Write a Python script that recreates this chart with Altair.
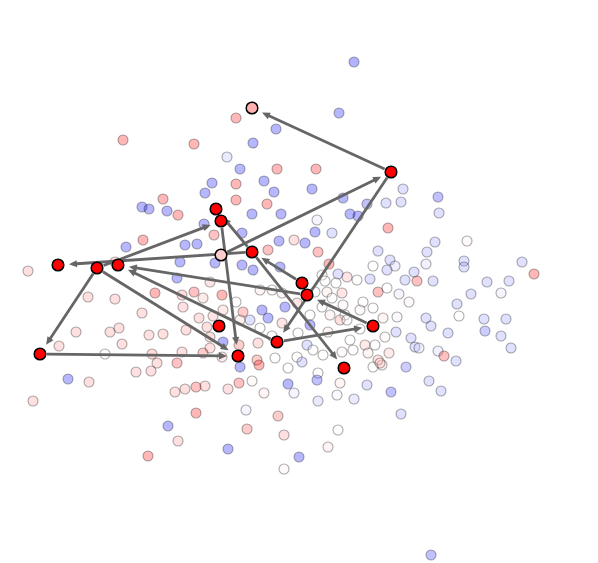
import math
import altair as alt
import pandas as pd

# ---------------- background points (embedding coords) -------------
bg_x = [354, 339, 236, 276, 123, 194, 253, 227, 240, 277, 316, 212, 236, 264, 205, 274, 312, 236, 267, 343,
        367, 386, 403, 401, 438, 439, 252, 281, 350, 358, 317, 142, 149, 163, 167, 178, 204, 143, 126, 185,
        197, 214, 242, 315, 332, 388, 279, 294, 305, 318, 329, 268, 180, 215, 242, 253, 280, 115, 28, 177,
        435, 467, 427, 378, 390, 395, 426, 464, 464, 522, 534, 414, 405, 417, 433, 387, 378, 399, 409, 487,
        509, 471, 501, 457, 459, 484, 506, 485, 501, 511, 383, 397, 426, 431, 448, 396, 411, 415, 419, 438,
        444, 456, 389, 382, 406, 429, 441, 391, 401, 431,
        338, 347, 357, 370, 373, 387, 322, 325, 336, 327, 342, 332, 315, 363, 260, 272, 282, 210, 222, 236,
        203, 297, 285, 262, 268, 243, 213, 223, 240, 250, 260, 310, 322, 330, 343, 345, 360, 373, 310, 282,
        298, 328, 340, 347, 360, 350, 365, 375, 385, 258, 272, 307, 313, 297, 323, 342, 353, 368, 378, 275,
        302, 288, 373, 380, 318, 317, 340, 367, 207, 223, 210, 239, 210, 203, 222, 257, 259, 240, 205, 228,
        239, 252, 264, 288, 294, 337, 318, 354, 246, 278, 247, 284, 338, 228, 299, 328, 284, 196,
        155, 182, 194, 183, 199, 88, 115, 142, 76, 110, 119, 122, 149, 163, 186, 59, 105, 152, 182, 157,
        177, 136, 151, 68, 89, 33, 175, 185, 196, 168, 178, 148]
bg_y = [62, 113, 118, 129, 140, 144, 143, 157, 169, 169, 169, 183, 184, 181, 193, 192, 189, 200, 204, 198,
        204, 203, 189, 202, 197, 213, 214, 214, 214, 216, 220, 207, 209, 199, 211, 215, 224, 240, 247, 245,
        244, 235, 233, 232, 233, 228, 241, 240, 243, 252, 264, 250, 262, 263, 265, 270, 267, 262, 271, 278,
        242, 241, 252, 251, 260, 266, 264, 261, 267, 262, 274, 272, 280, 281, 281, 288, 292, 294, 302, 282,
        281, 294, 293, 304, 316, 319, 319, 331, 336, 348, 318, 317, 318, 326, 333, 332, 338, 347, 348, 351,
        356, 361, 353, 365, 367, 381, 391, 392, 414, 555,
        274, 277, 280, 279, 266, 270, 275, 281, 283, 292, 293, 298, 292, 302, 290, 290, 293, 282, 295, 302,
        298, 303, 307, 310, 318, 312, 316, 310, 320, 320, 328, 315, 307, 315, 305, 315, 310, 308, 325, 323,
        333, 332, 320, 320, 329, 340, 345, 345, 337, 343, 336, 345, 350, 357, 355, 352, 350, 353, 360, 358,
        362, 368, 367, 363, 373, 380, 383, 385, 327, 342, 337, 345, 348, 353, 357, 360, 365, 367, 386, 389,
        383, 381, 393, 384, 393, 395, 401, 399, 410, 416, 429, 435, 430, 449, 457, 447, 469, 413,
        293, 295, 292, 307, 318, 297, 299, 313, 332, 332, 328, 344, 335, 334, 330, 346, 354, 354, 352, 363,
        363, 372, 371, 379, 382, 401, 392, 389, 387, 426, 441, 456]
bg_v = [-0.8, -0.7, 0.7, -0.7, 0.7, 0.7, -0.7, -0.2, -0.7, 0.7, 0.7, -0.7, 0.7, -0.7, -0.7, -0.7, -0.7, 0.7, 0.7, -0.7,
        -0.6, -0.3, -0.3, -0.3, -0.6, -0.3, -0.7, -0.7, -0.7, -0.7, -0.1, -0.7, -0.7, 0.7, -0.7, 0.7, -0.7, 0.7, -0.7, -0.7,
        -0.7, 0.6, -0.7, -0.7, -0.3, 0.7, -0.7, 0.3, -0.7, 0.6, 0.7, 0.6, -0.7, -0.7, -0.7, -0.7, -0.7, 0.3, 0.3, -0.7,
        -0.3, 0.05, -0.3, -0.3, -0.3, -0.15, -0.15, -0.3, -0.3, -0.3, 0.7, -0.3, -0.3, 0.6, -0.3, 0.0, 0.6, -0.1, 0.05, -0.3,
        -0.3, -0.3, -0.1, -0.3, 0.0, -0.3, -0.3, -0.5, -0.3, -0.3, 0.1, -0.05, -0.3, -0.3, -0.3, -0.3, -0.3, -0.3, -0.15, -0.15,
        0.6, -0.3, 0.2, 0.15, -0.5, -0.3, -0.3, -0.6, -0.3, -0.6,
        -0.3, 0.25, 0.0, -0.3, 0.0, -0.3, 0.0, 0.0, 0.0, 0.1, 0.25, 0.0, 0.0, 0.0, 0.1, 0.05, 0.1, 0.25, 0.7, 0.0,
        0.2, 0.25, -0.7, -0.7, -0.7, 0.5, 0.25, 0.2, 0.15, -0.3, 0.0, 0.0, 0.0, 0.1, 0.05, 0.0, 0.05, 0.0, -0.7, 0.25,
        0.0, 0.1, 0.3, 0.0, 0.0, 0.0, 0.2, 0.0, 0.05, 0.3, 0.0, -0.3, 0.0, 0.0, 0.0, 0.05, 0.0, 0.1, 0.25, 0.0,
        -0.3, 0.0, 0.0, 0.2, 0.0, -0.6, 0.1, -0.3, 0.3, -0.9, 0.3, 0.5, 0.3, 0.5, 0.2, 0.5, 0.7, -0.7, 0.3, 0.3,
        0.6, 0.05, 0.1, -0.7, -0.1, -0.05, -0.2, -0.2, -0.1, 0.5, 0.5, 0.3, 0.0, -0.7, -0.7, 0.1, 0.05, 0.7,
        0.7, 0.35, 0.6, 0.3, 0.3, 0.3, 0.3, 0.3, 0.3, 0.3, 0.3, 0.3, 0.3, 0.3, 0.3, 0.3, 0.0, 0.35, 0.3, 0.3,
        0.6, 0.3, 0.3, -0.7, 0.3, 0.3, 0.3, 0.3, 0.6, -0.7, 0.3, 0.7]

# ---------------- highlighted points -------------
hl_name = ["A", "B", "C", "D", "E", "F", "G", "H", "I", "J", "K", "L", "M", "N", "O", "P", "Q"]
hl_x = [252, 391, 216, 221, 58, 97, 118, 221, 252, 302, 307, 373, 219, 40, 238, 277, 344]
hl_y = [108, 172, 209, 221, 265, 268, 265, 255, 252, 283, 295, 326, 326, 354, 356, 342, 368]
hl_fill = ["#ffb0b0", "#ff0000", "#ff0000", "#ff0000", "#ff0000", "#ff0000", "#ff0000", "#ffcccc",
           "#ff0000", "#ff0000", "#ff0000", "#ff0000", "#ff0000", "#ff0000", "#ff0000", "#ff0000", "#ff0000"]

# ---------------- arrows (source -> target) -------------
arrow_src = ["B", "H", "B", "I", "F", "N", "F", "F", "D", "I", "I", "J", "L", "P", "K", "P"]
arrow_dst = ["A", "B", "P", "E", "N", "O", "O", "D", "O", "C", "Q", "I", "K", "L", "G", "G"]

# ---------------- build tables -------------
bg = pd.DataFrame({"x": bg_x, "y": bg_y, "v": bg_v})
hl = pd.DataFrame({"name": hl_name, "x": hl_x, "y": hl_y, "fill": hl_fill})
pos = {n: (x, y) for n, x, y in zip(hl_name, hl_x, hl_y)}

SHRINK_A, SHRINK_B, HEAD = 7.0, 11.0, 8.0
rows = []
for s, t in zip(arrow_src, arrow_dst):
    sx, sy = pos[s]
    tx, ty = pos[t]
    d = math.hypot(tx - sx, ty - sy)
    ux, uy = (tx - sx) / d, (ty - sy) / d
    tipx, tipy = tx - ux * SHRINK_B, ty - uy * SHRINK_B
    hx, hy = tipx - ux * HEAD / 2, tipy - uy * HEAD / 2
    ang = math.degrees(math.atan2(ux, -uy)) % 360
    rows.append({"x": sx + ux * SHRINK_A, "y": sy + uy * SHRINK_A, "x2": hx, "y2": hy,
                 "hx": hx, "hy": hy, "angle": ang})
arrows = pd.DataFrame(rows)

W, H = 582, 555
xs = alt.Scale(domain=[8, 8 + W], nice=False, zero=False)
ys = alt.Scale(domain=[8, 8 + H], nice=False, zero=False, reverse=True)

points = alt.Chart(bg).mark_circle(
    size=100, opacity=1, fillOpacity=0.3, stroke="black", strokeOpacity=0.33, strokeWidth=1.1
).encode(
    x=alt.X("x:Q", scale=xs, axis=None),
    y=alt.Y("y:Q", scale=ys, axis=None),
    fill=alt.Fill("v:Q", scale=alt.Scale(domain=[-0.75, 0, 0.75], range=["#0000ff", "#ffffff", "#ff0000"],
                                         interpolate="rgb", clamp=True), legend=None),
)

lines = alt.Chart(arrows).mark_rule(strokeWidth=2.8, color="#666666", opacity=1).encode(
    x=alt.X("x:Q", scale=xs, axis=None),
    y=alt.Y("y:Q", scale=ys, axis=None),
    x2="x2:Q",
    y2="y2:Q",
)

heads = alt.Chart(arrows).mark_point(
    shape="M0,-1L0.9,1L-0.9,1Z", filled=True, size=64, color="#666666", opacity=1, strokeWidth=0
).encode(
    x=alt.X("hx:Q", scale=xs, axis=None),
    y=alt.Y("hy:Q", scale=ys, axis=None),
    angle=alt.Angle("angle:Q", scale=None),
)

highlights = alt.Chart(hl).mark_circle(
    size=135, opacity=1, stroke="black", strokeWidth=1.5
).encode(
    x=alt.X("x:Q", scale=xs, axis=None),
    y=alt.Y("y:Q", scale=ys, axis=None),
    fill=alt.Fill("fill:N", scale=None),
)

chart = alt.layer(points, lines, heads, highlights).properties(
    width=W, height=H, padding=0, autosize=alt.AutoSizeParams(type="none"), background="white"
).configure_view(stroke=None)

chart.save("out.html", embed_options={"renderer": "svg", "actions": False})
